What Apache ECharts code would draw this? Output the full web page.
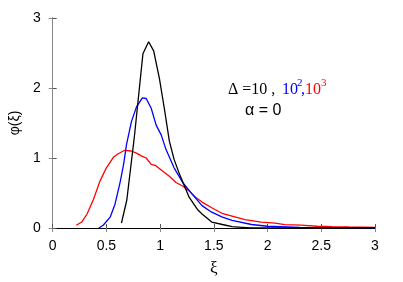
<!DOCTYPE html>
<html><head><meta charset="utf-8">
<script src="https://cdn.jsdelivr.net/npm/echarts@6/dist/echarts.min.js"></script>
<style>html,body{margin:0;padding:0;background:#fff}#c{width:403px;height:282px}</style>
</head><body><div id="c"></div>
<script>
const xTicks = [0, 0.5, 1, 1.5, 2, 2.5, 3];
const yTicks = [0, 1, 2, 3];

const blackX = [0.64,0.69,0.76,0.84,0.893,0.94,0.994,1.04,1.086,1.13,1.18,1.27,1.35,1.39,1.48,1.58,1.67,1.76,1.85,2.0,3.0];
const blackY = [0.07,0.40,1.30,2.49,2.66,2.53,2.13,1.70,1.24,0.98,0.77,0.44,0.26,0.20,0.085,0.05,0.02,0.01,0.0,0.0,0.0];

const blueX = [0.43,0.47,0.535,0.58,0.63,0.66,0.687,0.733,0.78,0.835,0.87,0.917,0.963,1.01,1.055,1.13,1.21,1.30,1.39,1.48,1.58,1.67,1.85,2.0,2.3,2.6,3.0];
const blueY = [0.0,0.04,0.155,0.34,0.67,0.91,1.19,1.52,1.73,1.86,1.85,1.71,1.47,1.33,1.12,0.86,0.65,0.48,0.32,0.226,0.155,0.11,0.05,0.025,0.01,0.005,0.0];

const redX = [0.22,0.27,0.32,0.38,0.44,0.50,0.565,0.61,0.67,0.73,0.78,0.825,0.87,0.917,0.96,1.025,1.086,1.147,1.21,1.27,1.33,1.39,1.48,1.576,1.67,1.79,1.94,2.07,2.16,2.31,2.46,2.6,2.76,3.0];
const redY = [0.04,0.085,0.2,0.41,0.67,0.86,1.01,1.06,1.11,1.10,1.07,1.03,1.00,0.91,0.89,0.81,0.74,0.65,0.60,0.53,0.44,0.37,0.29,0.21,0.17,0.12,0.085,0.07,0.047,0.04,0.025,0.02,0.015,0.01];

const zip = (a, b) => a.map((v, i) => [v, b[i]]);
const chart = echarts.init(document.getElementById('c'), null, {renderer: 'canvas'});
const lbl = {color: '#000', fontSize: 14, fontFamily: 'Liberation Sans'};
const fmtX = v => xTicks.includes(v) ? String(v) : '';
chart.setOption({
  animation: false,
  grid: {left: 48, right: 28, top: 18, bottom: 51},
  xAxis: [{
    type: 'value', min: 0, max: 3, interval: 0.5,
    name: 'ξ', nameLocation: 'middle', nameGap: 32,
    nameTextStyle: {color: '#000', fontSize: 17, fontFamily: 'Liberation Serif'},
    axisLine: {lineStyle: {color: '#000', width: 1}},
    axisTick: {inside: true, length: 4, lineStyle: {color: '#555'}},
    axisLabel: Object.assign({margin: 11, formatter: fmtX}, lbl),
    splitLine: {show: false}
  }, {
    type: 'value', min: 0, max: 3, interval: 0.5, position: 'top',
    axisLine: {lineStyle: {color: '#000', width: 1}},
    axisTick: {inside: true, length: 4, lineStyle: {color: '#888'}},
    axisLabel: {show: false}, splitLine: {show: false}
  }],
  yAxis: [{
    type: 'value', min: 0, max: 3, interval: 1,
    name: 'φ(ξ)', nameLocation: 'middle', nameGap: 30, nameRotate: 90,
    nameTextStyle: {color: '#000', fontSize: 14, fontFamily: 'Liberation Sans'},
    axisLine: {show: true, lineStyle: {color: '#000', width: 1}},
    axisTick: {show: true, inside: true, length: 4, lineStyle: {color: '#555'}},
    axisLabel: Object.assign({margin: 12, formatter: v => yTicks.includes(v) ? String(v) : ''}, lbl),
    splitLine: {show: false}
  }, {
    type: 'value', min: 0, max: 3, interval: 1, position: 'right',
    axisLine: {show: true, lineStyle: {color: '#888', width: 1}},
    axisTick: {show: true, inside: true, length: 4, lineStyle: {color: '#888'}},
    axisLabel: {show: false}, splitLine: {show: false}
  }],
  series: [
    {type: 'line', data: zip(redX, redY), showSymbol: false, lineStyle: {color: '#ff0000', width: 1.3}, z: 3},
    {type: 'line', data: zip(blueX, blueY), showSymbol: false, lineStyle: {color: '#0000ff', width: 1.3}, z: 4},
    {type: 'line', data: zip(blackX, blackY), showSymbol: false, lineStyle: {color: '#000', width: 1.3}, z: 5}
  ],
  graphic: [
    {type: 'text', left: 228, top: 82, style: {text: 'Δ =10 ,', fontSize: 16, fontFamily: 'Liberation Serif', fill: '#000'}},
    {type: 'text', left: 282, top: 82, style: {text: '10', fontSize: 16, fontFamily: 'Liberation Serif', fill: '#0000ff'}},
    {type: 'text', left: 297, top: 78, style: {text: '2', fontSize: 11, fontFamily: 'Liberation Serif', fill: '#0000ff'}},
    {type: 'text', left: 301, top: 82, style: {text: ',', fontSize: 16, fontFamily: 'Liberation Serif', fill: '#0000ff'}},
    {type: 'text', left: 305, top: 82, style: {text: '10', fontSize: 16, fontFamily: 'Liberation Serif', fill: '#ff0000'}},
    {type: 'text', left: 321, top: 78, style: {text: '3', fontSize: 11, fontFamily: 'Liberation Serif', fill: '#ff0000'}},
    {type: 'text', left: 245, top: 103, style: {text: 'α = 0', fontSize: 16, fontFamily: 'Liberation Sans', fill: '#000'}}
  ]
});
</script></body></html>
